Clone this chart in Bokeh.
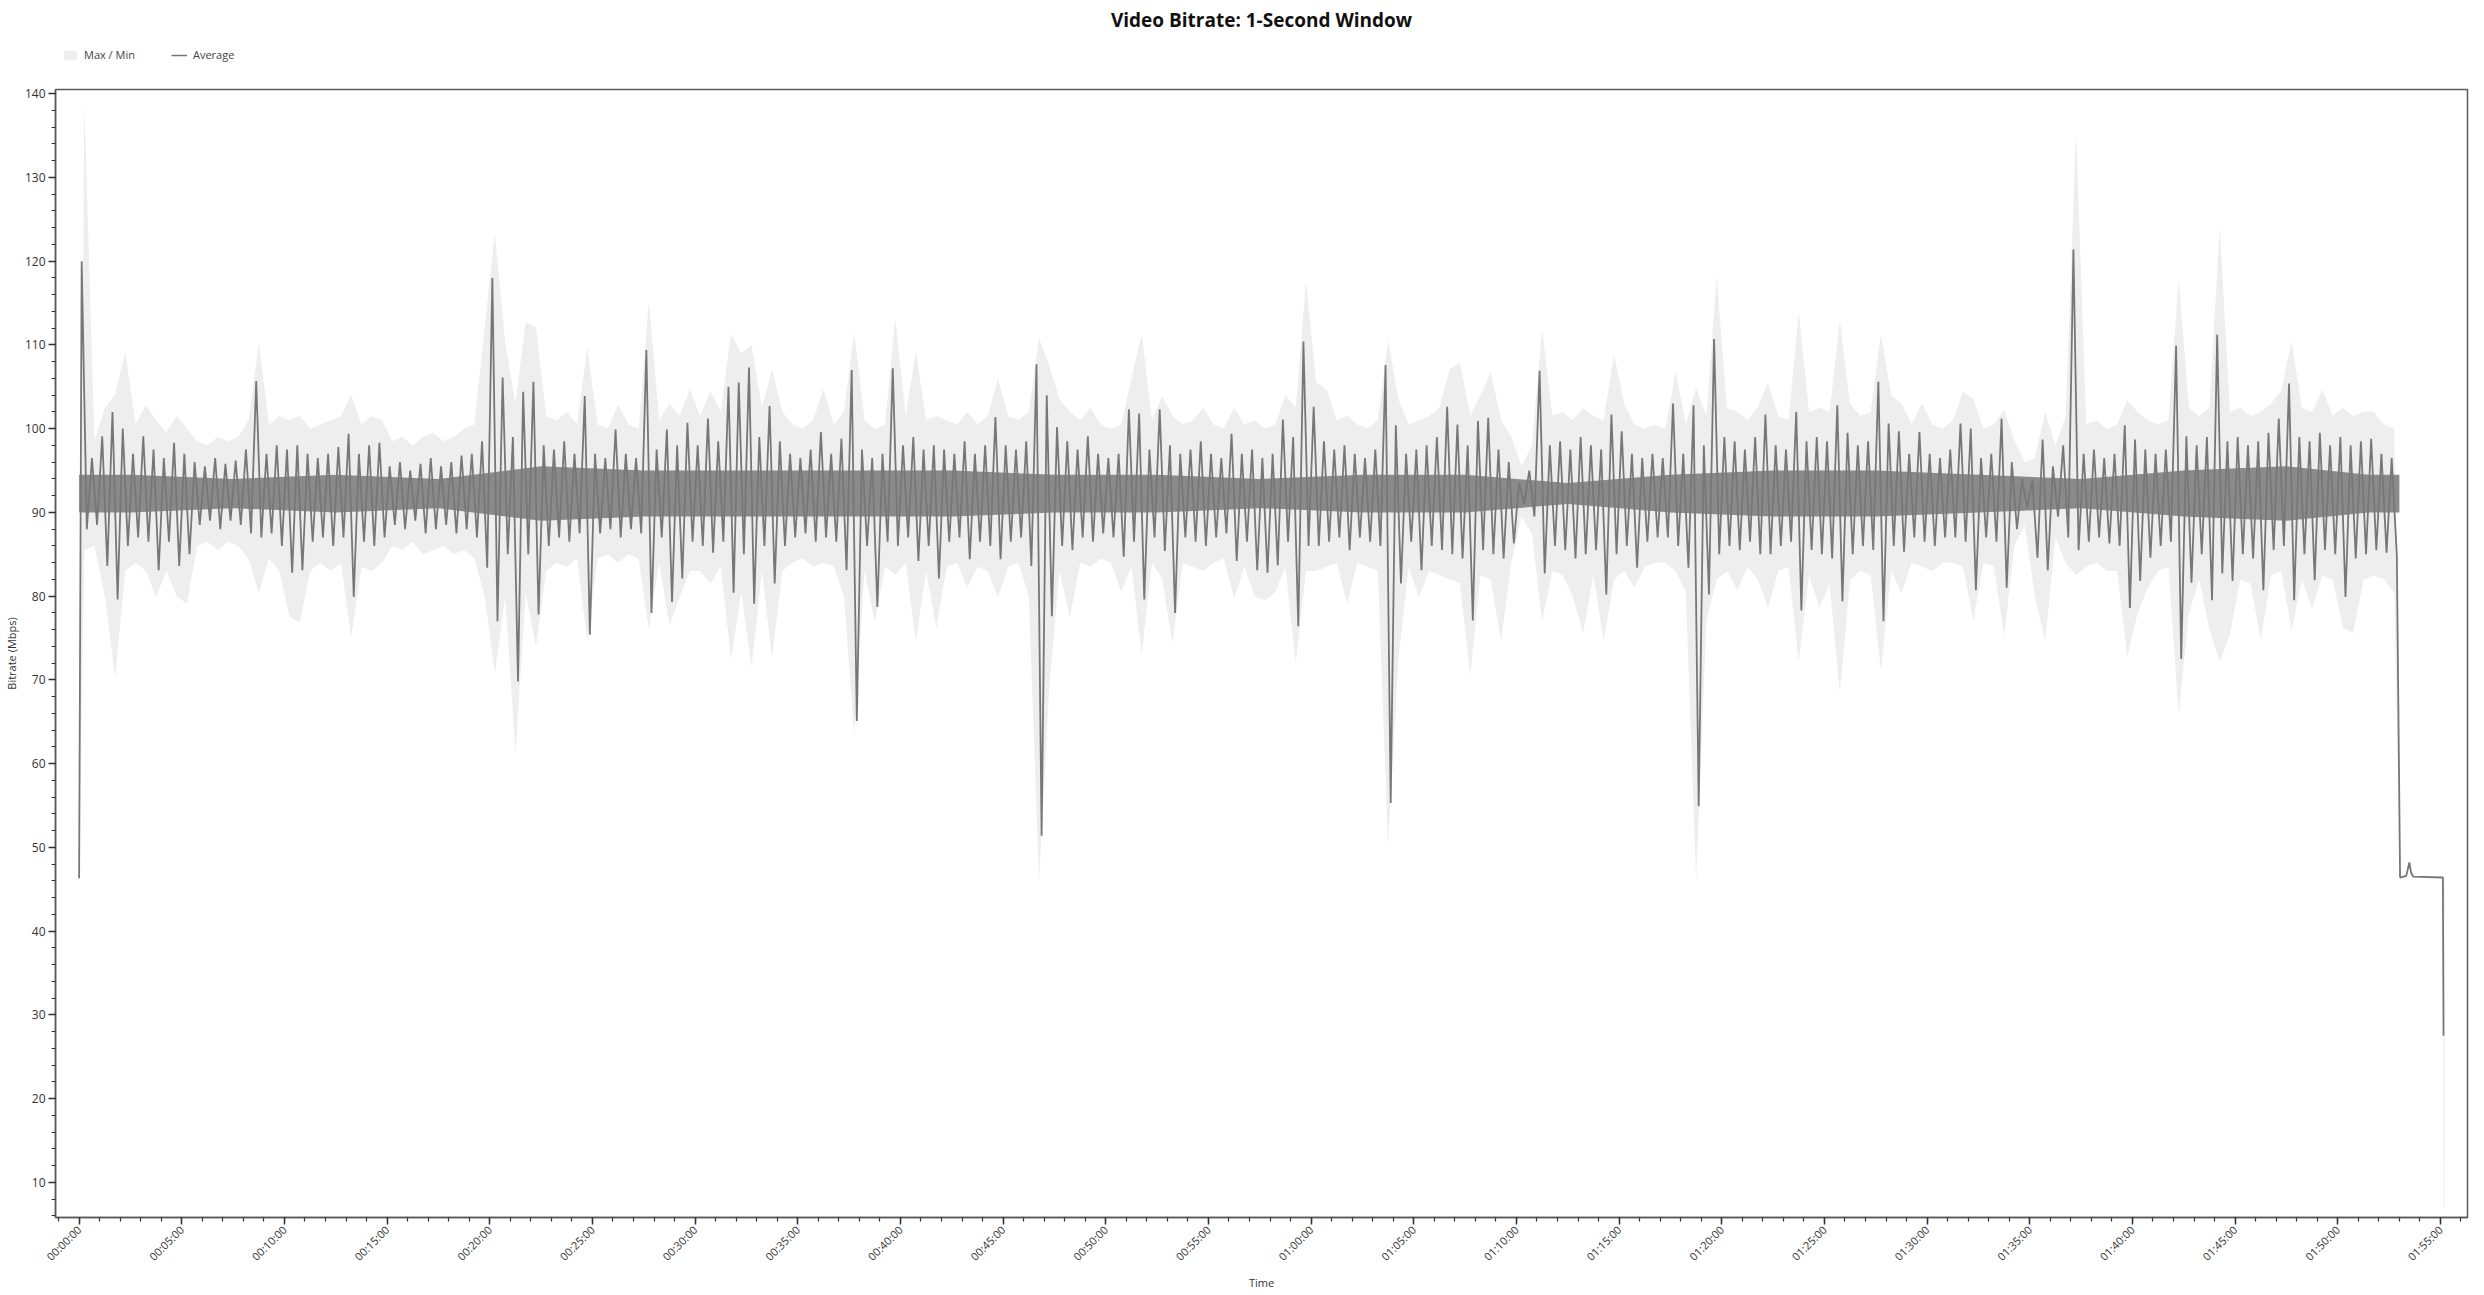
import numpy as np
from bokeh.plotting import figure
from bokeh.layouts import column
from bokeh.models import (Range1d, FixedTicker, Legend, LegendItem, ColumnDataSource,
                          Label)
from bokeh.embed import file_html
from bokeh.resources import INLINE

# ---------------- data ----------------
# 30-second bins starting at 00:00:00; per bin: highest / lowest average, max, min (Mbps)
BIN_SECONDS = 30

avg_hi = [
    120.0, 96.5, 99.1, 102.0, 100.0, 97.0, 99.1, 97.5, 96.5, 98.3,
    97.0, 96.0, 95.5, 96.5, 95.8, 96.2, 97.5, 105.7, 97.0, 98.0,
    97.5, 98.0, 97.0, 96.5, 97.0, 97.8, 99.4, 97.0, 98.0, 98.3,
    95.5, 96.0, 95.0, 95.8, 96.5, 95.5, 96.0, 96.8, 97.0, 98.5,
    118.0, 106.1, 99.0, 104.4, 105.6, 98.0, 97.5, 98.5, 97.0, 103.9,
    97.0, 96.5, 99.9, 97.0, 96.5, 109.4, 97.5, 99.9, 98.0, 100.7,
    98.0, 101.2, 98.5, 105.0, 105.5, 107.3, 99.0, 102.7, 98.5, 97.0,
    96.5, 97.5, 99.6, 97.0, 98.8, 107.0, 97.5, 96.5, 97.0, 107.2,
    98.0, 99.0, 97.5, 98.0, 97.5, 97.0, 98.5, 97.0, 98.0, 101.4,
    98.0, 97.5, 98.5, 107.7, 104.0, 100.2, 98.5, 97.5, 99.1, 97.0,
    96.5, 97.0, 102.3, 101.8, 97.5, 102.3, 98.0, 97.0, 97.5, 98.5,
    97.0, 96.5, 99.4, 97.0, 97.5, 96.5, 97.0, 101.1, 99.0, 110.4,
    102.6, 98.5, 97.5, 98.0, 97.0, 96.5, 97.5, 107.6, 100.4, 97.0,
    97.5, 98.0, 99.0, 102.6, 100.5, 98.0, 100.9, 101.3, 97.5, 96.0,
    93.5, 95.0, 106.9, 98.0, 98.5, 97.5, 99.0, 98.0, 97.5, 101.7,
    99.7, 97.0, 96.5, 97.0, 96.5, 103.0, 97.0, 102.8, 98.0, 110.7,
    99.0, 98.5, 97.5, 99.0, 101.7, 98.0, 97.5, 102.0, 98.5, 99.0,
    98.5, 102.8, 99.5, 98.0, 98.5, 105.6, 100.6, 99.7, 97.0, 99.6,
    97.0, 96.5, 97.5, 100.6, 100.0, 96.5, 97.0, 101.2, 96.0, 94.0,
    93.8, 98.7, 95.5, 98.0, 121.4, 97.0, 97.5, 96.5, 97.0, 100.4,
    98.7, 97.5, 97.0, 97.5, 109.9, 99.1, 98.0, 99.0, 111.2, 98.5,
    99.0, 98.0, 98.5, 99.5, 101.2, 105.4, 99.0, 98.5, 99.5, 98.0,
    99.0, 98.0, 98.5, 98.8, 97.0, 96.5,
]

avg_lo = [
    88.0, 88.5, 83.6, 79.6, 86.0, 87.0, 86.5, 83.1, 86.5, 83.6,
    85.0, 88.5, 89.0, 88.0, 89.0, 88.5, 87.5, 87.0, 87.5, 86.0,
    82.8, 83.1, 86.5, 87.0, 86.0, 87.0, 79.9, 86.5, 86.0, 87.0,
    88.5, 88.0, 89.0, 87.5, 88.0, 88.5, 87.5, 88.0, 87.0, 83.4,
    77.0, 85.0, 69.8, 85.0, 77.8, 86.0, 87.0, 86.5, 87.5, 75.4,
    87.5, 88.0, 87.0, 88.0, 87.5, 78.0, 87.0, 79.3, 82.1, 86.5,
    86.0, 85.2, 86.5, 80.4, 85.0, 79.1, 86.0, 81.5, 86.0, 87.0,
    87.5, 86.5, 87.0, 86.5, 83.1, 65.1, 86.0, 78.7, 86.5, 86.0,
    87.0, 84.2, 86.0, 82.1, 86.5, 87.0, 84.4, 86.5, 86.0, 84.4,
    86.5, 87.0, 83.6, 51.4, 77.6, 86.0, 85.5, 87.0, 86.5, 87.5,
    87.0, 84.7, 86.5, 79.6, 87.0, 85.4, 78.0, 87.0, 86.5, 86.0,
    87.0, 87.5, 84.2, 86.5, 83.1, 82.8, 83.7, 86.5, 76.4, 86.0,
    86.0, 86.5, 87.0, 85.5, 87.0, 86.5, 86.0, 55.3, 81.5, 86.5,
    83.1, 86.0, 85.5, 85.0, 84.5, 77.1, 85.5, 85.0, 84.5, 86.3,
    91.0, 89.5, 82.7, 86.0, 85.5, 84.5, 85.0, 85.5, 80.2, 85.0,
    86.0, 83.4, 86.5, 87.0, 87.0, 86.0, 83.4, 54.9, 80.2, 85.0,
    86.0, 85.5, 86.5, 85.0, 85.0, 86.0, 86.5, 78.3, 85.5, 85.0,
    84.5, 79.4, 85.0, 86.0, 85.5, 77.0, 86.0, 85.3, 87.0, 86.5,
    86.0, 87.0, 87.0, 86.5, 80.7, 87.0, 86.5, 81.0, 88.0, 90.6,
    84.6, 83.1, 89.5, 87.0, 85.5, 86.5, 87.0, 86.3, 86.0, 78.6,
    81.8, 84.6, 86.0, 86.5, 72.5, 81.6, 85.0, 79.5, 82.7, 81.8,
    85.0, 84.5, 80.7, 85.5, 86.0, 79.5, 85.0, 81.9, 85.5, 85.0,
    79.9, 84.5, 85.0, 85.5, 85.2, 84.9,
]

max_rate = [
    139.0, 98.5, 102.5, 104.0, 109.2, 100.5, 102.8, 101.0, 99.5, 101.5,
    100.0, 98.5, 98.0, 99.0, 98.5, 99.0, 101.0, 110.3, 100.5, 101.5,
    101.0, 101.5, 100.0, 100.5, 101.0, 101.5, 104.0, 100.5, 101.5, 101.0,
    98.5, 99.0, 98.0, 99.0, 99.5, 98.5, 99.0, 100.0, 100.5, 112.1,
    123.3, 110.3, 103.0, 112.7, 112.1, 101.5, 101.0, 102.0, 100.5, 109.7,
    100.5, 100.0, 102.9, 100.5, 100.0, 115.2, 101.0, 103.0, 101.5, 104.7,
    101.5, 104.5, 102.0, 111.3, 109.0, 110.0, 102.5, 107.1, 102.0, 100.5,
    100.0, 101.0, 104.7, 100.5, 102.0, 111.5, 101.0, 100.0, 100.5, 113.2,
    101.5, 109.2, 101.0, 101.5, 101.0, 100.5, 102.0, 100.5, 101.5, 106.0,
    101.5, 101.0, 102.0, 110.8, 107.5, 103.5, 102.0, 101.0, 102.5, 100.5,
    100.0, 100.5, 106.0, 111.3, 101.0, 103.9, 101.5, 100.5, 101.0, 102.5,
    100.5, 100.0, 102.5, 100.5, 101.0, 100.0, 100.5, 104.0, 102.5, 117.6,
    105.5, 104.7, 101.0, 101.5, 100.5, 100.0, 101.0, 110.6, 103.5, 100.5,
    101.0, 101.5, 102.5, 107.1, 107.9, 101.5, 104.0, 106.8, 101.0, 99.0,
    95.5, 98.0, 111.9, 101.5, 102.0, 101.0, 102.5, 101.5, 101.0, 108.9,
    103.0, 100.5, 100.0, 100.5, 100.0, 106.8, 100.5, 104.9, 101.5, 118.2,
    102.5, 102.0, 101.0, 102.5, 105.5, 101.5, 101.0, 113.9, 102.0, 102.5,
    102.0, 112.9, 103.0, 101.5, 102.0, 111.3, 104.0, 103.0, 100.5, 103.0,
    100.5, 100.0, 101.0, 104.4, 103.5, 100.0, 100.5, 102.3, 98.5, 96.0,
    96.5, 102.0, 98.0, 101.5, 135.5, 100.5, 101.0, 100.0, 100.5, 103.4,
    102.0, 101.0, 100.5, 101.0, 117.9, 102.5, 101.5, 102.5, 124.0, 102.0,
    102.5, 101.5, 102.0, 103.0, 104.5, 110.5, 102.5, 102.0, 104.7, 101.5,
    102.5, 101.5, 102.0, 102.0, 100.5, 100.0,
]

min_rate = [
    85.5, 86.0, 80.0, 70.3, 83.0, 84.0, 83.0, 79.9, 83.0, 80.0,
    79.1, 86.0, 86.5, 85.5, 86.5, 86.0, 84.5, 80.4, 84.5, 83.0,
    77.5, 76.9, 83.0, 84.0, 83.0, 84.0, 75.1, 83.5, 83.0, 84.0,
    86.0, 85.5, 86.5, 85.0, 85.5, 86.0, 85.0, 85.5, 84.5, 80.0,
    70.8, 80.0, 61.2, 80.5, 74.0, 83.0, 84.0, 83.5, 84.5, 74.6,
    84.5, 85.0, 84.0, 85.0, 84.5, 76.0, 84.0, 76.5, 79.9, 83.0,
    83.0, 81.5, 83.5, 72.5, 80.5, 71.5, 83.0, 72.7, 83.0, 84.0,
    84.5, 83.5, 84.0, 83.5, 80.0, 63.4, 83.0, 77.0, 83.5, 82.5,
    84.0, 74.6, 83.0, 76.2, 83.5, 84.0, 81.0, 83.5, 83.0, 79.9,
    83.5, 84.0, 80.0, 46.0, 69.2, 83.0, 77.5, 84.0, 83.5, 84.5,
    84.0, 80.5, 83.5, 73.0, 84.0, 82.0, 74.3, 84.0, 83.5, 83.0,
    84.0, 84.5, 79.7, 83.5, 80.0, 79.5, 80.5, 83.5, 71.9, 83.0,
    83.0, 83.5, 84.0, 79.1, 84.0, 83.5, 83.0, 50.1, 72.4, 83.5,
    79.9, 83.0, 82.5, 82.0, 81.5, 70.4, 82.5, 82.0, 74.6, 84.0,
    89.5, 87.5, 77.0, 83.0, 82.5, 79.9, 75.6, 82.5, 74.6, 82.0,
    83.0, 81.0, 83.5, 84.0, 84.0, 83.0, 80.5, 46.0, 77.0, 82.0,
    83.0, 80.7, 83.5, 82.0, 78.6, 83.0, 83.5, 72.2, 82.5, 78.6,
    81.5, 68.4, 82.0, 83.0, 82.5, 71.1, 83.0, 80.4, 84.0, 83.5,
    83.0, 84.0, 84.0, 83.5, 77.1, 84.0, 83.5, 75.2, 86.0, 88.5,
    80.0, 74.6, 87.0, 84.0, 82.5, 83.5, 84.0, 83.0, 83.0, 72.7,
    78.0, 81.0, 83.0, 83.5, 65.9, 78.0, 82.0, 76.0, 72.2, 75.4,
    82.0, 81.5, 74.8, 82.5, 83.0, 75.9, 82.0, 78.5, 82.5, 82.0,
    76.2, 75.6, 82.0, 82.5, 82.0, 80.4,
]

# dense core of the average line, per 5-minute stretch (seconds, Mbps)
core_t = [0, 150, 450, 750, 1050, 1350, 1650, 1950, 2250, 2550, 2850, 3150,
          3450, 3750, 4050, 4350, 4650, 4950, 5250, 5550, 5850, 6150, 6450,
          6690, 6780]
core_lo = [90.0, 90.0, 90.5, 90.0, 90.5, 89.0, 89.5, 89.5, 89.5, 89.5, 90.0, 90.0,
           90.5, 90.0, 90.0, 91.0, 90.0, 89.5, 89.5, 90.0, 90.5, 89.5, 89.0,
           90.0, 90.0]
core_hi = [94.5, 94.5, 94.0, 94.5, 94.0, 95.5, 95.0, 95.0, 95.0, 95.0, 94.5, 94.5,
           94.0, 94.5, 94.5, 93.5, 94.5, 95.0, 95.0, 94.5, 94.0, 95.0, 95.5,
           94.5, 94.5]

# first sample and the tail after the bitrate drop (seconds, Mbps)
start_t, start_avg, start_min, start_max = 0, 46.3, 46.0, 46.3
tail_t = [6782, 6800, 6809, 6814, 6820, 6907, 6909, 6912]
tail_avg = [46.4, 46.6, 48.2, 47.0, 46.5, 46.4, 27.5, 27.5]
tail_max = [46.4, 46.6, 48.2, 47.0, 46.5, 46.4, 46.4, 46.4]
tail_min = [46.4, 46.6, 48.2, 47.0, 46.5, 46.4, 7.0, 7.0]

x_ticks = list(range(0, 6901, 300))
y_ticks = list(range(10, 141, 10))

assert len(avg_hi) == len(avg_lo) == len(max_rate) == len(min_rate)
assert len(core_t) == len(core_lo) == len(core_hi)

# ---------------- build sources ----------------
n = len(avg_hi)
t0 = np.arange(n) * BIN_SECONDS
line_x, line_y = [start_t], [start_avg]
for i in range(n):
    line_x += [t0[i] + BIN_SECONDS * 0.25, t0[i] + BIN_SECONDS * 0.75]
    line_y += [avg_hi[i], avg_lo[i]]
line_x += tail_t[:-1]
line_y += tail_avg[:-1]

band_x = [start_t] + list(t0 + BIN_SECONDS / 2) + tail_t
band_lo = [start_min] + min_rate + tail_min
band_hi = [start_max] + max_rate + tail_max

band_src = ColumnDataSource(dict(x=band_x, lo=band_lo, hi=band_hi))
core_src = ColumnDataSource(dict(x=core_t, lo=core_lo, hi=core_hi))
line_src = ColumnDataSource(dict(x=line_x, y=line_y))

FONT = "Open Sans"
TEXT = "#333333"
BAND_COLOR = "#eeeeee"
LINE_COLOR = "#777777"
HEAD_H = 79
FRAME_W, FRAME_H = 2412, 1128
FRAME_LEFT = 56          # page x of the plot frame's left edge

# ---------------- header: title + legend (frame aligned with the chart frame) ----------------
head = figure(frame_width=FRAME_W, height=HEAD_H, output_backend="svg", toolbar_location=None,
              x_range=Range1d(FRAME_LEFT, FRAME_LEFT + FRAME_W), y_range=Range1d(HEAD_H, 0),
              x_axis_location=None, y_axis_location=None,
              min_border=0, min_border_left=48, min_border_right=8,
              outline_line_color=None, title=None)
head.grid.visible = False
head.add_layout(Label(x=1262, y=19, text="Video Bitrate: 1-Second Window",
                      text_align="center", text_baseline="middle",
                      text_font=FONT, text_font_size="19px", text_font_style="bold",
                      text_color="#111111"))
# legend keys: single points kept outside the header's visible range
key_band = head.varea(x=[-50], y1=[-50], y2=[-49], fill_color=BAND_COLOR)
key_line = head.line(x=[-50, -49], y=[-50, -50], line_color=LINE_COLOR, line_width=1.5)
legend = Legend(
    items=[LegendItem(label="Max / Min", renderers=[key_band]),
           LegendItem(label="Average", renderers=[key_line])],
    orientation="horizontal", location=(4, 14),
    label_text_font=FONT, label_text_font_size="11px", label_text_color="#444444",
    glyph_width=16, glyph_height=12, label_height=12, label_standoff=6,
    spacing=36, padding=3, margin=0,
    border_line_alpha=0, background_fill_alpha=0,
)
head.add_layout(legend, "center")

# ---------------- main chart ----------------
p = figure(
    frame_width=FRAME_W, frame_height=FRAME_H, title=None,
    output_backend="svg", toolbar_location=None,
    x_range=Range1d(-69, 6979), y_range=Range1d(5.8, 140.5),
    min_border_left=48, min_border_right=8, min_border_top=10, min_border_bottom=66,
    background_fill_color="white", border_fill_color="white",
)

p.varea(x="x", y1="lo", y2="hi", source=band_src, fill_color=BAND_COLOR)
p.varea(x="x", y1="lo", y2="hi", source=core_src, fill_color="#8a8a8a")
p.line(x="x", y="y", source=line_src, line_color=LINE_COLOR, line_width=1.8)

p.xgrid.visible = False
p.ygrid.visible = False
p.outline_line_color = "#5a5a5a"
p.outline_line_width = 1.5

xa = p.xaxis[0]
xa.ticker = FixedTicker(ticks=x_ticks, minor_ticks=list(range(-60, 6961, 60)))
xa.major_label_overrides = {t: "%02d:%02d:00" % (t // 3600, (t % 3600) // 60) for t in x_ticks}
xa.major_label_orientation = np.pi / 4
xa.axis_label = "Time"

ya = p.yaxis[0]
ya.ticker = FixedTicker(ticks=y_ticks, minor_ticks=list(range(6, 141, 2)))
ya.axis_label = "Bitrate (Mbps)"

for ax in (xa, ya):
    ax.axis_line_color = "#5a5a5a"
    ax.axis_line_width = 1.5
    ax.major_tick_line_color = "#333333"
    ax.major_tick_line_width = 1.5
    ax.minor_tick_line_color = "#333333"
    ax.minor_tick_line_width = 1.2
    ax.major_tick_out = 7
    ax.major_tick_in = 0
    ax.minor_tick_out = 4
    ax.minor_tick_in = 0
    ax.major_label_text_font = FONT
    ax.major_label_text_color = TEXT
    ax.major_label_standoff = 3
    ax.axis_label_text_font = FONT
    ax.axis_label_text_font_size = "11px"
    ax.axis_label_text_font_style = "normal"
    ax.axis_label_text_color = TEXT
    ax.axis_label_standoff = 3
xa.major_label_text_font_size = "11px"
ya.major_label_text_font_size = "12px"

layout = column(head, p, spacing=0)
open("out.html", "w").write(file_html(layout, INLINE))
